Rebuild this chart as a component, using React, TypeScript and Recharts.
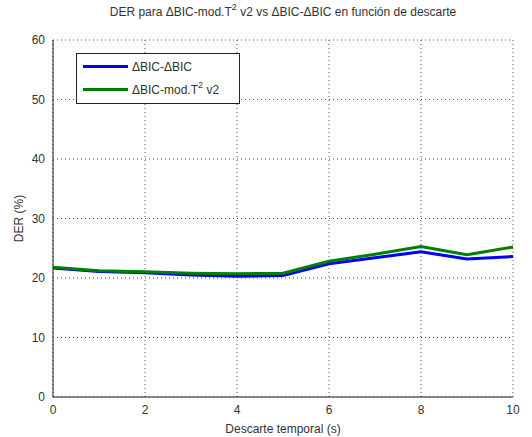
import { CartesianGrid, Line, LineChart, XAxis, YAxis } from "recharts";

const descarte = [0, 1, 2, 3, 4, 5, 6, 7, 8, 9, 10];
const derBicBic = [21.7, 21.1, 20.9, 20.5, 20.3, 20.4, 22.4, 23.4, 24.4, 23.2, 23.6];
const derBicModT2 = [21.8, 21.2, 21.05, 20.8, 20.7, 20.8, 22.8, 24.0, 25.3, 23.9, 25.2];
const xTicks = [0, 2, 4, 6, 8, 10];
const yTicks = [0, 10, 20, 30, 40, 50, 60];

const data = descarte.map((x, i) => ({ x, bic: derBicBic[i], mod: derBicModT2[i] }));

const FONT = "'Liberation Sans', Arial, sans-serif";
const TICK = { fill: "#333", fontSize: 12, fontFamily: FONT };

function LegendBox() {
  const row = (color: string, label: React.ReactNode) => (
    <div style={{ display: "flex", alignItems: "center", height: 23 }}>
      <div style={{ width: 45, height: 3, background: color, marginRight: 4 }} />
      <span>{label}</span>
    </div>
  );
  return (
    <div
      style={{
        position: "absolute",
        left: 76,
        top: 53,
        border: "1px solid #222",
        background: "#fff",
        width: 156,
        padding: "1px 0 2px 6px",
        fontFamily: FONT,
        fontSize: 12,
        color: "#333",
      }}
    >
      {row("#0000ff", "ΔBIC-ΔBIC")}
      {row(
        "#008000",
        <>
          ΔBIC-mod.T<sup style={{ fontSize: 9, verticalAlign: 6, lineHeight: 0 }}>2</sup> v2
        </>
      )}
    </div>
  );
}

export default function App() {
  return (
    <div style={{ position: "absolute", left: 0, top: 0, width: 532, height: 437, background: "#fff" }}>
      <div
        style={{
          position: "absolute",
          top: 5,
          left: 0,
          width: 566,
          textAlign: "center",
          fontFamily: FONT,
          fontSize: 12,
          color: "#333",
        }}
      >
        DER para ΔBIC-mod.T<sup style={{ fontSize: 9, verticalAlign: 6, lineHeight: 0 }}>2</sup> v2 vs ΔBIC-ΔBIC en
        función de descarte
      </div>
      <LineChart width={532} height={437} data={data} margin={{ top: 40, right: 19, left: 0, bottom: 0 }}>
        <CartesianGrid stroke="#555" strokeDasharray="1 3" horizontal vertical />
        <XAxis
          dataKey="x"
          type="number"
          domain={[0, 10]}
          ticks={xTicks}
          height={40}
          tick={TICK}
          tickLine={false}
          axisLine={{ stroke: "#222" }}
          label={{ value: "Descarte temporal (s)", position: "insideBottom", offset: 4, ...TICK }}
        />
        <XAxis xAxisId="top" orientation="top" dataKey="x" type="number" domain={[0, 10]} height={0} tick={false} tickLine={false} axisLine={{ stroke: "#222" }} />
        <YAxis
          type="number"
          domain={[0, 60]}
          ticks={yTicks}
          width={53}
          tick={TICK}
          tickLine={false}
          axisLine={{ stroke: "#222" }}
          label={{ value: "DER (%)", angle: -90, position: "insideLeft", offset: 19, ...TICK, style: { textAnchor: "middle" } }}
        />
        <YAxis yAxisId="right" orientation="right" domain={[0, 60]} width={0} tick={false} tickLine={false} axisLine={{ stroke: "#222" }} />
        <Line dataKey="bic" stroke="#0000ff" strokeWidth={3} dot={false} isAnimationActive={false} />
        <Line dataKey="mod" stroke="#008000" strokeWidth={3} dot={false} isAnimationActive={false} />
      </LineChart>
      <LegendBox />
    </div>
  );
}
